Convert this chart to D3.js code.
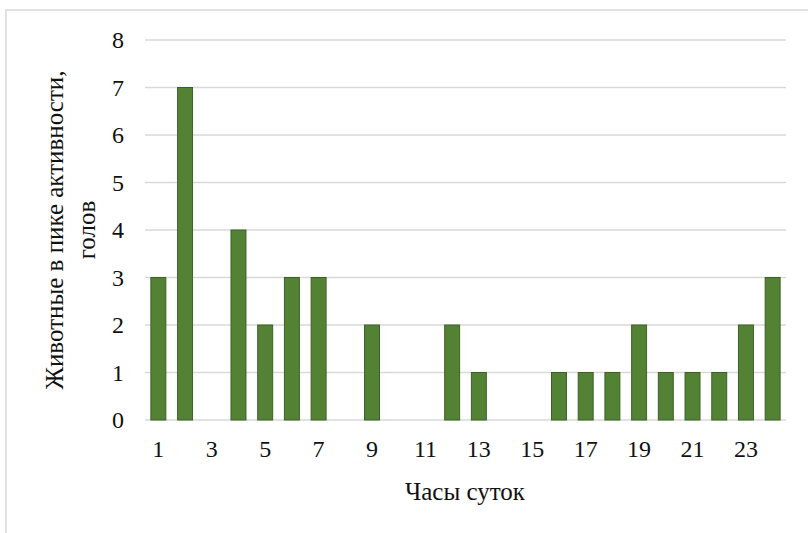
<!DOCTYPE html>
<html>
<head>
<meta charset="utf-8">
<script src="https://cdn.jsdelivr.net/npm/d3@7"></script>
<style>
  body { margin: 0; background: #fff; }
  svg { display: block; }
  svg text { font-family: "Liberation Serif", "Times New Roman", "DejaVu Serif", serif !important; }
</style>
</head>
<body>
<svg id="chart" width="808" height="533"></svg>
<script>
// hours of the day and animals at peak activity
const hours = d3.range(1, 25);
const animals = [3, 7, 0, 4, 2, 3, 3, 0, 2, 0, 0, 2, 1, 0, 0, 1, 1, 1, 2, 1, 1, 1, 2, 3];
const yTicks = [0, 1, 2, 3, 4, 5, 6, 7, 8];
const xTickLabels = [1, 3, 5, 7, 9, 11, 13, 15, 17, 19, 21, 23];

const svg = d3.select("#chart");
const width = 808;
const height = 533;
const margin = { top: 40, right: 22, bottom: 113, left: 145 }; // plot area 145..786 x 40..420
const textColor = "#111";

// chart frame (only left and top edges show)
svg.append("rect")
  .attr("x", 6).attr("y", 10)
  .attr("width", 830).attr("height", 560)
  .attr("fill", "none")
  .attr("stroke", "#d9d9d9")
  .attr("stroke-width", 1.5);

const x = d3.scaleBand()
  .domain(hours)
  .range([margin.left, width - margin.right])
  .paddingInner(0.44)
  .paddingOuter(0.22);

const y = d3.scaleLinear()
  .domain([0, 8])
  .range([height - margin.bottom, margin.top]);

// gridlines
svg.append("g")
  .selectAll("line")
  .data(yTicks)
  .join("line")
  .attr("x1", margin.left)
  .attr("x2", width - margin.right)
  .attr("y1", d => y(d))
  .attr("y2", d => y(d))
  .attr("stroke", "#d9d9d9")
  .attr("stroke-width", 1.5);

// y axis labels
svg.append("g")
  .attr("transform", `translate(${margin.left - 21},0)`)
  .call(d3.axisLeft(y).tickValues(yTicks).tickSize(0).tickPadding(0))
  .call(g => g.select(".domain").remove())
  .selectAll("text")
  .style("font-size", "24px")
  .attr("fill", textColor);

// bars
svg.append("g")
  .selectAll("rect")
  .data(hours.map((h, i) => ({ hour: h, value: animals[i] })).filter(d => d.value > 0))
  .join("rect")
  .attr("x", d => x(d.hour))
  .attr("y", d => y(d.value))
  .attr("width", x.bandwidth())
  .attr("height", d => y(0) - y(d.value))
  .attr("fill", "#548235")
  .attr("stroke", "#3b6124")
  .attr("stroke-width", 1);

// x axis labels (odd hours only)
svg.append("g")
  .attr("transform", `translate(0,${y(0) + 20})`)
  .call(d3.axisBottom(x).tickValues(xTickLabels).tickSize(0).tickPadding(0))
  .call(g => g.select(".domain").remove())
  .selectAll("text")
  .style("font-size", "24px")
  .attr("fill", textColor);

// x axis title
svg.append("text")
  .attr("x", 465)
  .attr("y", 500)
  .attr("text-anchor", "middle")
  .attr("fill", textColor)
  .style("font-size", "25px")
  .text("Часы суток");

// y axis title (two lines, rotated)
const yTitle = svg.append("text")
  .attr("transform", "translate(63,230) rotate(-90)")
  .attr("text-anchor", "middle")
  .attr("fill", textColor)
  .style("font-size", "25px");
yTitle.append("tspan").attr("x", 0).attr("y", 0).text("Животные в пике активности,");
yTitle.append("tspan").attr("x", 0).attr("y", 32).text("голов");
</script>
</body>
</html>
